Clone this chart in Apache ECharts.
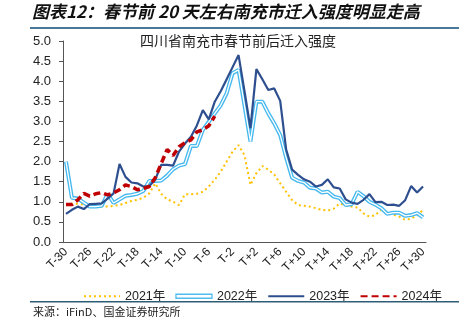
<!DOCTYPE html>
<html><head><meta charset="utf-8">
<script src="https://cdn.jsdelivr.net/npm/echarts@6/dist/echarts.min.js"></script>
<style>html,body{margin:0;padding:0;background:#fff}#c{width:459px;height:321px}</style>
</head><body><div id="c"></div>
<script>
const categories = [];
for (let i = -30; i <= 30; i++) categories.push(i === 0 ? 'T0' : (i < 0 ? 'T' + i : 'T+' + i));

const s2021 = [0.92,0.95,0.95,0.93,0.90,0.88,0.88,0.88,0.90,0.92,0.97,1.02,1.05,1.10,1.21,1.46,1.20,1.06,1.00,0.92,1.19,1.19,1.20,1.25,1.38,1.55,1.75,2.00,2.25,2.41,2.16,1.42,1.71,1.89,1.80,1.68,1.46,1.25,1.04,0.92,0.90,0.88,0.84,0.80,0.78,0.83,0.96,0.90,0.88,0.86,0.71,0.63,0.67,0.80,0.74,0.68,0.63,0.55,0.58,0.66,0.80];
const s2022 = [2.00,1.10,1.08,0.98,0.88,0.88,0.90,1.20,0.97,1.06,1.15,1.17,1.20,1.27,1.52,1.52,1.53,1.65,1.81,1.90,1.94,2.39,2.39,2.79,2.99,3.20,3.40,3.70,4.20,4.28,3.40,2.50,3.49,3.49,3.20,2.95,2.66,2.10,1.60,1.52,1.48,1.35,1.33,1.23,1.25,1.13,1.09,0.92,0.94,1.25,1.14,1.00,0.93,0.84,0.70,0.73,0.73,0.65,0.67,0.72,0.61];
const s2023 = [0.70,0.80,0.88,0.82,0.94,0.95,0.96,1.08,1.21,1.94,1.62,1.48,1.46,1.38,1.39,1.55,1.92,1.92,1.90,2.25,2.45,2.62,2.90,3.28,3.05,3.49,3.75,4.05,4.35,4.65,3.75,2.83,4.30,4.05,3.78,3.82,3.51,2.30,1.80,1.67,1.56,1.50,1.38,1.42,1.56,1.36,1.33,1.06,0.98,0.95,1.05,1.19,0.99,1.00,0.92,0.93,0.90,1.04,1.39,1.23,1.38];
const s2024 = [0.93,0.93,1.05,1.21,1.14,1.20,1.23,1.17,1.22,1.30,1.42,1.38,1.30,1.33,1.38,1.60,1.95,2.30,2.15,2.37,2.47,2.54,2.74,2.79,2.89,3.13];
const yTicks = [0,0.5,1,1.5,2,2.5,3,3.5,4,4.5,5];

const chart = echarts.init(document.getElementById('c'), null, {renderer:'canvas'});
const axisColor = '#555';
const hideSym = {color:'rgba(0,0,0,0)', borderWidth:0, opacity:0};
chart.setOption({
  animation: false,
  backgroundColor: '#fff',
  graphic: [
    {type:'text', left:32, top:3, style:{text:'图表12：春节前 20 天左右南充市迁入强度明显走高', font:'italic bold 17px "Noto Sans CJK SC"', fill:'#111'}},
    {type:'rect', shape:{x:30,y:27,width:429,height:2}, style:{fill:'#4a7898'}},
    {type:'text', left:140, top:34, style:{text:'四川省南充市春节前后迁入强度', font:'14px "Noto Sans CJK SC"', fill:'#222'}},
    {type:'rect', shape:{x:30,y:301,width:429,height:1.5}, style:{fill:'#2f5d78'}},
    {type:'text', left:33, top:306, style:{text:'来源：iFinD、国金证券研究所', font:'11px "Noto Sans CJK SC"', fill:'#222'}}
  ],
  grid: {left:63, right:33, top:41, bottom:79},
  legend: {
    left: 78, top: 285, itemWidth: 36, itemHeight: 4, itemGap: 10,
    textStyle: {fontFamily:'Liberation Sans, Noto Sans CJK SC', fontSize:12.5, color:'#222'},
    data: [
      {name:'2021年', itemStyle: hideSym},
      {name:'2022年', icon:'rect', itemStyle:{color:'#fff', borderColor:'#4fbdf0', borderWidth:1.3}},
      {name:'2023年', itemStyle: hideSym},
      {name:'2024年', itemStyle: hideSym}
    ]
  },
  xAxis: {
    type:'category', data: categories, boundaryGap: true,
    axisLine:{lineStyle:{color:axisColor, width:1}},
    axisTick:{interval:0, length:4, lineStyle:{color:axisColor}},
    axisLabel:{interval:3, rotate:45, fontFamily:'Liberation Sans', fontSize:12, color:'#222', margin:8}
  },
  yAxis: {
    type:'value', min: yTicks[0], max: yTicks[yTicks.length-1], interval: 0.5,
    splitLine:{show:false},
    axisLine:{show:true, lineStyle:{color:axisColor, width:1}},
    axisTick:{show:true, length:4, lineStyle:{color:axisColor}},
    axisLabel:{formatter: v => v.toFixed(1), fontFamily:'Liberation Sans', fontSize:13, color:'#222', margin:12}
  },
  series: [
    {name:'2021年', type:'line', data:s2021, showSymbol:false, symbol:'none', z:2,
     lineStyle:{color:'#ffc000', width:2, type:[2,3]}, itemStyle:{color:'#ffc000'}},
    {name:'2022年', type:'line', data:s2022, showSymbol:false, symbol:'none', z:3,
     lineStyle:{color:'#45b8ee', width:4}, itemStyle:{color:'#45b8ee'}},
    {name:'2022inner', type:'line', data:s2022, showSymbol:false, symbol:'none', z:4, silent:true,
     lineStyle:{color:'#ffffff', width:1.3}},
    {name:'2023年', type:'line', data:s2023, showSymbol:false, symbol:'none', z:5,
     lineStyle:{color:'#2e4f8f', width:2.2}, itemStyle:{color:'#2e4f8f'}},
    {name:'2024年', type:'line', data:s2024, showSymbol:false, symbol:'none', z:6,
     lineStyle:{color:'#c00000', width:3.5, type:[7,4]}, itemStyle:{color:'#c00000'}}
  ]
});
</script></body></html>
